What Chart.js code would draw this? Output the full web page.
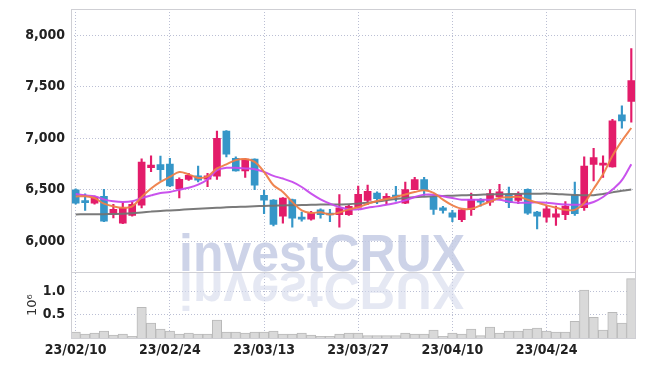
<!DOCTYPE html>
<html>
<head>
<meta charset="utf-8">
<script src="https://cdn.jsdelivr.net/npm/chart.js@4"></script>
<style>
  html, body { margin: 0; padding: 0; background: #fff; }
  canvas { display: block; }
</style>
</head>
<body>
<canvas id="chart" width="645" height="366"></canvas>
<script>
// trading days
const dates = [
  '23/02/10','23/02/13','23/02/14','23/02/15','23/02/16','23/02/17','23/02/20','23/02/21','23/02/22','23/02/23',
  '23/02/24','23/02/27','23/02/28','23/03/02','23/03/03','23/03/06','23/03/07','23/03/08','23/03/09','23/03/10',
  '23/03/13','23/03/14','23/03/15','23/03/16','23/03/17','23/03/20','23/03/21','23/03/22','23/03/23','23/03/24',
  '23/03/27','23/03/28','23/03/29','23/03/30','23/03/31','23/04/03','23/04/04','23/04/05','23/04/06','23/04/07',
  '23/04/10','23/04/11','23/04/12','23/04/13','23/04/14','23/04/17','23/04/18','23/04/19','23/04/20','23/04/21',
  '23/04/24','23/04/25','23/04/26','23/04/27','23/04/28','23/05/02','23/05/03','23/05/04','23/05/08','23/05/09'
];

const opens = [
  6500, 6390, 6370, 6437, 6264, 6176, 6250, 6350, 6715, 6745,
  6750, 6512, 6600, 6635, 6603, 6632, 7071, 6805, 6684, 6798,
  6446, 6400, 6245, 6405, 6232, 6215, 6306, 6262, 6258, 6258,
  6332, 6397, 6469, 6410, 6443, 6371, 6502, 6600, 6430, 6326,
  6277, 6209, 6306, 6404, 6381, 6430, 6453, 6397, 6505, 6283,
  6234, 6234, 6258, 6446, 6326, 6746, 6739, 6723, 7227, 7357
];
const closes = [
  6370, 6375, 6430, 6195, 6310, 6320, 6358, 6770, 6740, 6695,
  6537, 6602, 6640, 6593, 6635, 7000, 6845, 6684, 6798, 6544,
  6400, 6165, 6420, 6225, 6215, 6271, 6258, 6255, 6326, 6339,
  6456, 6485, 6414, 6437, 6430, 6502, 6600, 6495, 6310, 6300,
  6234, 6306, 6407, 6381, 6463, 6479, 6375, 6463, 6273, 6244,
  6316, 6267, 6342, 6267, 6729, 6813, 6755, 7169, 7169, 7560
];
const highs = [
  6510, 6460, 6440, 6505, 6358, 6375, 6380, 6800, 6830, 6827,
  6805, 6615, 6660, 6730, 6660, 7070, 7075, 6820, 6805, 6800,
  6495, 6405, 6425, 6410, 6283, 6290, 6316, 6310, 6453, 6350,
  6535, 6545, 6480, 6463, 6534, 6576, 6620, 6620, 6440, 6340,
  6300, 6310, 6469, 6414, 6502, 6554, 6527, 6479, 6510, 6290,
  6340, 6342, 6385, 6576, 6820, 6902, 6830, 7185, 7315, 7870
];
const lows = [
  6360, 6300, 6360, 6190, 6228, 6170, 6245, 6325, 6675, 6590,
  6530, 6420, 6590, 6577, 6530, 6600, 6820, 6680, 6620, 6500,
  6267, 6150, 6176, 6137, 6195, 6205, 6225, 6190, 6137, 6250,
  6325, 6355, 6365, 6358, 6390, 6365, 6500, 6446, 6260, 6273,
  6190, 6190, 6251, 6342, 6349, 6414, 6326, 6365, 6260, 6121,
  6186, 6153, 6209, 6251, 6300, 6586, 6619, 6720, 7098, 7156
];

// volume, millions of shares
const volumes = [
  0.128, 0.086, 0.107, 0.150, 0.064, 0.086, 0.036, 0.657, 0.321, 0.193,
  0.150, 0.086, 0.107, 0.086, 0.086, 0.385, 0.128, 0.128, 0.107, 0.128,
  0.128, 0.150, 0.086, 0.086, 0.107, 0.064, 0.036, 0.036, 0.086, 0.107,
  0.107, 0.050, 0.050, 0.050, 0.050, 0.107, 0.086, 0.086, 0.171, 0.036,
  0.107, 0.086, 0.193, 0.050, 0.236, 0.107, 0.150, 0.150, 0.193, 0.214,
  0.150, 0.128, 0.128, 0.357, 1.028, 0.443, 0.171, 0.550, 0.321, 1.278
];

// moving average lines
const maShort = [
  6435, 6437, 6420, 6365, 6339, 6326, 6339, 6430, 6512, 6576,
  6625, 6672, 6650, 6615, 6630, 6707, 6746, 6788, 6798, 6771,
  6674, 6544, 6479, 6381, 6300, 6275, 6282, 6260, 6280, 6310,
  6330, 6365, 6392, 6410, 6430, 6455, 6478, 6495, 6470, 6404,
  6349, 6316, 6315, 6349, 6385, 6420, 6428, 6432, 6404, 6375,
  6349, 6326, 6305, 6305, 6370, 6510, 6650, 6830, 6975, 7100
];
const maMid = [
  6460, 6446, 6437, 6407, 6388, 6381, 6388, 6420, 6446, 6469,
  6479, 6500, 6520, 6550, 6600, 6690, 6713, 6713, 6707, 6700,
  6674, 6635, 6609, 6576, 6527, 6463, 6407, 6365, 6332, 6310,
  6310, 6326, 6339, 6355, 6371, 6397, 6430, 6453, 6453, 6437,
  6420, 6404, 6404, 6404, 6404, 6404, 6385, 6375, 6375, 6378,
  6375, 6365, 6358, 6355, 6358, 6381, 6430, 6502, 6593, 6749
];
const maLong = [
  6261, 6262, 6262, 6263, 6265, 6267, 6272, 6280, 6288, 6295,
  6300, 6305, 6310, 6315, 6320, 6325, 6330, 6333, 6336, 6340,
  6343, 6346, 6348, 6350, 6352, 6354, 6356, 6357, 6358, 6360,
  6366, 6374, 6386, 6398, 6410, 6420, 6428, 6433, 6437, 6440,
  6443, 6446, 6449, 6452, 6455, 6456, 6458, 6460, 6461, 6462,
  6463, 6460, 6455, 6450, 6446, 6448, 6460, 6475, 6490, 6502
];

const priceTicks = [6000, 6500, 7000, 7500, 8000];
const volumeTicks = [0.5, 1.0];
const watermark = 'investCRUX';

const UP = '#e31c6a';
const DOWN = '#3596c8';
const candleColor = ctx => closes[ctx.dataIndex] >= opens[ctx.dataIndex] ? UP : DOWN;

const tickFont = { family: '"DejaVu Sans Condensed", "Liberation Sans Narrow", "Liberation Sans", sans-serif', size: 14, weight: 'bold' };
const gridColor = 'rgba(175, 180, 205, 0.85)';

// frame, panel separator and the watermark
const framePlugin = {
  id: 'framePlugin',
  beforeDatasetsDraw(chart) {
    const { ctx, scales } = chart;
    const base = scales.yv.top;
    ctx.save();
    ctx.font = 'bold 51px "Liberation Sans", Arial, sans-serif';
    const w = ctx.measureText(watermark).width;
    ctx.translate(179, base - 1);
    ctx.scale(286 / w, 1);
    ctx.fillStyle = 'rgba(196, 203, 228, 0.85)';
    ctx.fillText(watermark, 0, 0);
    ctx.scale(1, -1);
    ctx.translate(0, -2);
    ctx.fillStyle = 'rgba(212, 216, 235, 0.6)';
    ctx.fillText(watermark, 0, 0);
    ctx.restore();
  },
  afterDraw(chart) {
    const { ctx, chartArea: a, scales } = chart;
    ctx.save();
    ctx.strokeStyle = '#cfcfd4';
    ctx.lineWidth = 1;
    ctx.strokeRect(a.left + 0.5, a.top + 0.5, a.right - a.left - 1, a.bottom - a.top);
    ctx.beginPath();
    ctx.moveTo(a.left, Math.round(scales.yv.top) + 0.5);
    ctx.lineTo(a.right, Math.round(scales.yv.top) + 0.5);
    ctx.stroke();
    ctx.restore();
  }
};

const fitLeft = s => { s.width = 71; s.paddingTop = 0; s.paddingBottom = 0; };

new Chart(document.getElementById('chart'), {
  type: 'bar',
  data: {
    labels: dates,
    datasets: [
      {
        type: 'line', data: maShort, yAxisID: 'y', order: 0,
        borderColor: 'rgba(238, 126, 72, 0.95)', borderWidth: 2, pointRadius: 0, tension: 0.35
      },
      {
        type: 'line', data: maMid, yAxisID: 'y', order: 0,
        borderColor: 'rgba(198, 74, 236, 0.95)', borderWidth: 2, pointRadius: 0, tension: 0.35
      },
      {
        type: 'line', data: maLong, yAxisID: 'y', order: 0,
        borderColor: 'rgba(115, 115, 115, 0.95)', borderWidth: 2, pointRadius: 0, tension: 0.35
      },
      {
        data: opens.map((o, i) => [o, closes[i]]), yAxisID: 'y', order: 1,
        backgroundColor: candleColor, barThickness: 7, grouped: false, minBarLength: 2
      },
      {
        data: lows.map((l, i) => [l, highs[i]]), yAxisID: 'y', order: 2,
        backgroundColor: candleColor, barThickness: 1.5, grouped: false
      },
      {
        data: volumes, yAxisID: 'yv', order: 3,
        backgroundColor: '#d9d9d9', borderColor: '#b9b9b9', borderWidth: 1,
        barPercentage: 1, categoryPercentage: 1, grouped: false
      }
    ]
  },
  options: {
    responsive: false,
    animation: false,
    devicePixelRatio: 1,
    layout: { padding: { top: 9, right: 9, left: 0, bottom: 0 } },
    plugins: { legend: { display: false }, tooltip: { enabled: false } },
    scales: {
      x: {
        offset: true,
        grid: { offset: false, color: gridColor, drawTicks: false },
        border: { display: false, dash: [1, 2] },
        ticks: { autoSkip: false, maxRotation: 0, padding: 4, color: '#222', font: tickFont },
        afterBuildTicks: s => { s.ticks = s.ticks.filter((t, i) => i % 10 === 0); },
        afterFit: s => { s.height = 28; }
      },
      yv: {
        position: 'left', stack: 'panels', stackWeight: 1,
        min: 0, max: 1.415,
        grid: { color: gridColor, drawTicks: false },
        border: { display: false, dash: [1, 2] },
        ticks: { padding: 6, color: '#222', font: tickFont, callback: v => v.toFixed(1) },
        afterBuildTicks: s => { s.ticks = volumeTicks.map(v => ({ value: v })); },
        title: {
          display: true, text: '10⁶', color: '#333',
          font: { family: '"DejaVu Sans", sans-serif', size: 13 },
          padding: { top: 25, bottom: 0 }
        },
        afterFit: fitLeft
      },
      y: {
        position: 'left', stack: 'panels', stackWeight: 4,
        min: 5700, max: 8255,
        grid: { color: gridColor, drawTicks: false },
        border: { display: false, dash: [1, 2] },
        ticks: { padding: 6, color: '#222', font: tickFont, callback: v => v.toLocaleString('en-US') },
        afterBuildTicks: s => { s.ticks = priceTicks.map(v => ({ value: v })); },
        afterFit: fitLeft
      }
    }
  },
  plugins: [framePlugin]
});
</script>
</body>
</html>
